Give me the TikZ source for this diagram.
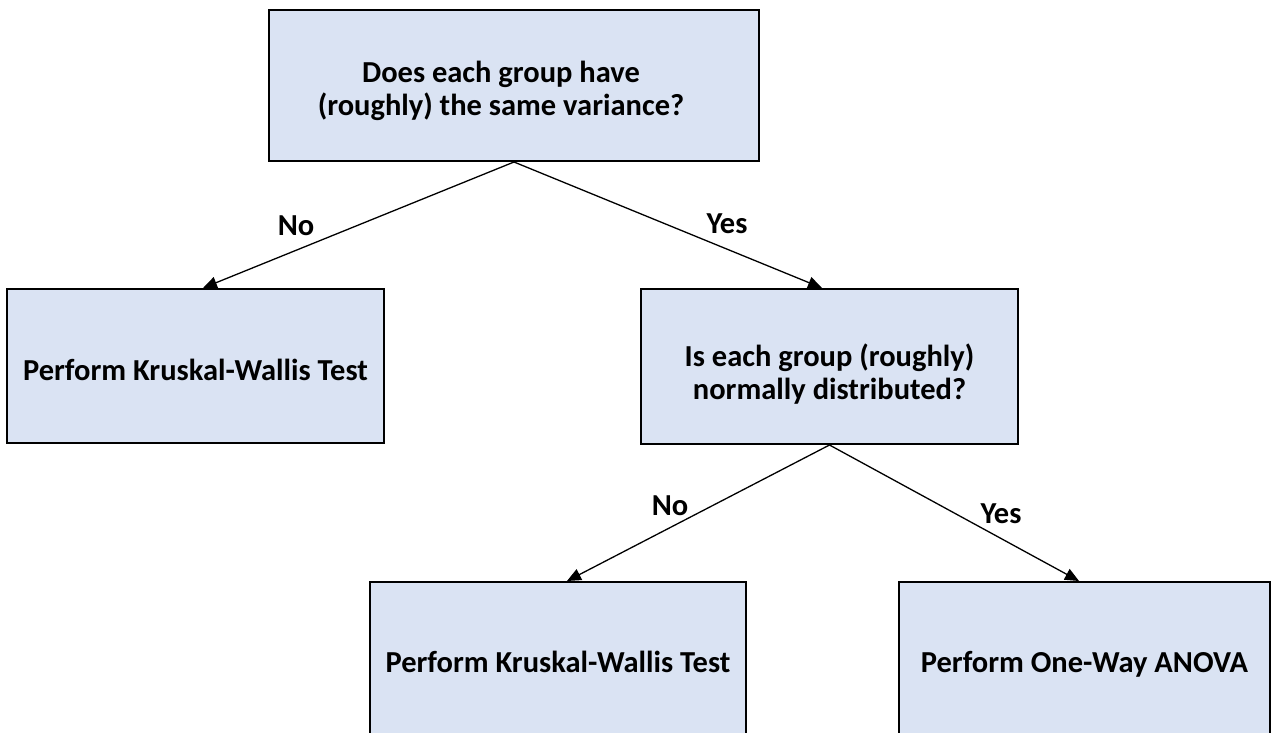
\documentclass[tikz,border=0pt]{standalone}
\usepackage{fontspec}
\setmainfont{Carlito}
\usetikzlibrary{arrows.meta}
\definecolor{boxfill}{HTML}{DAE3F3}
\newcommand{\upst}[1]{\rule{0pt}{#1}}
\newcommand{\dnst}{\rule[-12pt]{0pt}{12pt}}
\tikzset{
  box/.style={draw=black, line width=2pt, fill=boxfill, align=center, inner sep=0pt,
    font=\fontsize{30.5}{33}\selectfont\bfseries},
  conn/.style={draw=black, line width=1.3pt, -{Triangle[length=14pt,width=12pt]}},
  lbl/.style={font=\fontsize{30.5}{33}\selectfont\bfseries, inner sep=0pt}
}
\begin{document}
\begin{tikzpicture}[x=1pt,y=-1pt]
\useasboundingbox (0,0) rectangle (1272,733);
\clip (0,0) rectangle (1272,733);
\node[box, minimum width=490pt, minimum height=151pt] (top) at (514,85.5)
  {\upst{40pt}Does each group have\hspace*{26pt}\\(roughly) the same variance?\dnst\hspace*{26pt}};
\node[box, minimum width=377pt, minimum height=154pt] (left) at (195.5,366)
  {\rule[-12pt]{0pt}{52pt}Perform Kruskal-Wallis Test};
\node[box, minimum width=377pt, minimum height=155pt] (mid) at (829.5,366.5)
  {\upst{44pt}Is each group (roughly)\\normally distributed?\dnst};
\node[box, minimum width=376pt, minimum height=155pt] (bl) at (558,659.5)
  {\rule[-12pt]{0pt}{50pt}Perform Kruskal-Wallis Test};
\node[box, minimum width=371pt, minimum height=155pt] (br) at (1084.5,659.5)
  {\rule[-12pt]{0pt}{50pt}Perform One-Way ANOVA};
\draw[conn] (top.south) -- ([xshift=7.5pt]left.north);
\draw[conn] (top.south) -- ([xshift=-7.5pt]mid.north);
\draw[conn] (mid.south) -- ([xshift=9pt]bl.north);
\draw[conn] (mid.south) -- ([xshift=-5.5pt]br.north);
\node[lbl] (no1) at (296,226) {No};
\node[lbl] (yes1) at (727,224) {Yes};
\node[lbl] (no2) at (670,506) {No};
\node[lbl] (yes2) at (1001,514) {Yes};
\end{tikzpicture}
\end{document}
